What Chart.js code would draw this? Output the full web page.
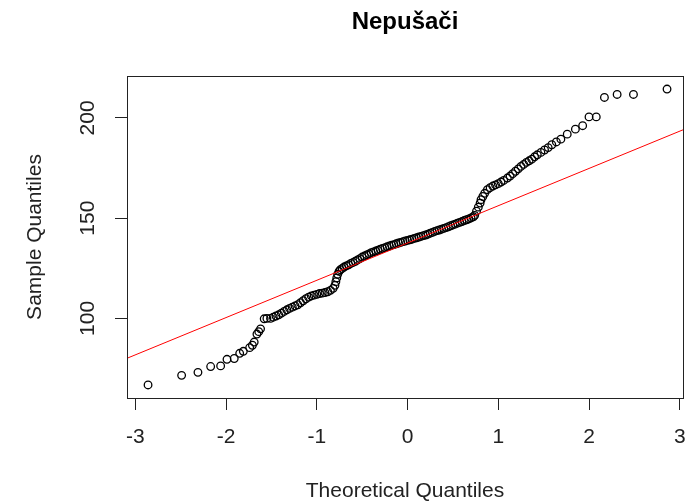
<!DOCTYPE html>
<html>
<head>
<meta charset="utf-8">
<script src="https://cdn.jsdelivr.net/npm/chart.js@4"></script>
<style>
  html, body { margin: 0; padding: 0; background: #fff; }
  #wrap { width: 687px; height: 502px; }
</style>
</head>
<body>
<div id="wrap"><canvas id="qq"></canvas></div>
<script>
// theoretical / sample quantiles
var theoretical = [
  -2.86, -2.49, -2.31, -2.17, -2.06, -1.99, -1.91, -1.85, -1.81, -1.74,
  -1.71, -1.69, -1.66, -1.64, -1.62, -1.58, -1.55, -1.51,
  -1.48, -1.45, -1.42, -1.39, -1.36, -1.33, -1.30, -1.27, -1.24, -1.21,
  -1.18, -1.15, -1.12, -1.09, -1.06, -1.03, -1.00, -0.97, -0.94, -0.91,
  -0.88, -0.85, -0.82, -0.80, -0.79, -0.78, -0.77, -0.755, -0.74, -0.72,
  -0.700, -0.675, -0.650, -0.625, -0.600, -0.575, -0.550, -0.525, -0.500, -0.475,
  -0.450, -0.425, -0.400, -0.375, -0.350, -0.325, -0.300, -0.275, -0.250, -0.225,
  -0.200, -0.175, -0.150, -0.125, -0.100, -0.075, -0.050, -0.025, 0.000, 0.025,
  0.050, 0.075, 0.100, 0.125, 0.150, 0.175, 0.200, 0.225, 0.250, 0.275,
  0.300, 0.325, 0.350, 0.375, 0.400, 0.425, 0.450, 0.475, 0.500, 0.525,
  0.550, 0.575, 0.600, 0.625, 0.650, 0.675, 0.700, 0.725, 0.740,
  0.76, 0.78, 0.80, 0.81, 0.83, 0.85, 0.88, 0.91, 0.94, 0.97,
  1.00, 1.03, 1.06, 1.10, 1.13, 1.16, 1.19, 1.22, 1.25, 1.28,
  1.31, 1.34, 1.37, 1.40, 1.43, 1.47, 1.51, 1.55, 1.59, 1.64,
  1.69, 1.76, 1.85, 1.93, 2.00, 2.08, 2.17, 2.31, 2.49, 2.86
];
var sample = [
  66.8, 71.6, 73.1, 76.0, 76.3, 79.6, 80.0, 82.6, 83.6, 85.4,
  86.6, 88.2, 92.2, 93.4, 94.8, 99.8, 100.0, 100.0,
  100.6, 101.2, 101.8, 102.6, 103.5, 104.3, 105.0, 105.6, 106.2, 106.8,
  107.8, 108.8, 109.8, 110.6, 111.2, 111.6, 112.0, 112.4, 112.6, 112.9,
  113.3, 114.0, 115.0, 116.5, 118.3, 120.2, 122.0, 123.5, 124.3, 124.9,
  125.6, 126.2, 126.7, 127.4, 127.9, 128.5, 129.2, 129.8, 130.6, 131.1,
  131.7, 132.2, 132.8, 133.2, 133.6, 134.0, 134.5, 134.9, 135.3, 135.7,
  136.1, 136.5, 136.8, 137.2, 137.6, 137.9, 138.3, 138.6, 138.9, 139.2,
  139.5, 139.9, 140.2, 140.6, 140.9, 141.3, 141.6, 142.0, 142.5, 142.9,
  143.4, 143.8, 144.1, 144.5, 144.9, 145.3, 145.7, 146.2, 146.6, 147.0,
  147.5, 147.9, 148.3, 148.8, 149.2, 149.6, 150.1, 150.7, 151.4,
  153.5, 155.5, 157.5, 159.2, 160.8, 162.4, 164.2, 165.2, 166.0, 166.6,
  167.2, 168.0, 168.8, 170.0, 171.0, 172.2, 173.4, 174.6, 175.8, 176.8,
  177.8, 178.6, 179.4, 180.6, 181.6, 182.8, 184.0, 185.2, 186.6, 188.0,
  189.4, 191.9, 194.4, 196.1, 200.5, 200.5, 210.2, 211.7, 211.7, 214.4
];

// qqline end points
var lineX = [-3.2, 3.2];
var lineY = [78.1, 197.1];

var xTicks = [-3, -2, -1, 0, 1, 2, 3];
var yTicks = [100, 150, 200];

var FONT = "'Liberation Sans', Arial, sans-serif";

var points = theoretical.map((x, i) => ({ x: x, y: sample[i] }));
var qqline = lineX.map((x, i) => ({ x: x, y: lineY[i] }));

// box round the plot + rotated y labels (R style)
const rBox = {
    id: 'rBox',
    afterDraw(chart) {
        const ctx = chart.ctx;
        const a = chart.chartArea;
        ctx.save();
        ctx.strokeStyle = '#222';
        ctx.lineWidth = 1;
        ctx.strokeRect(Math.round(a.left) + 0.5, Math.round(a.top) + 0.5,
            Math.round(a.right - a.left), Math.round(a.bottom - a.top));

        const ys = chart.scales.y;
        ctx.fillStyle = '#222';
        ctx.font = '21px ' + FONT;
        ctx.textAlign = 'center';
        ctx.textBaseline = 'middle';
        yTicks.forEach(v => {
            ctx.save();
            ctx.translate(88, ys.getPixelForValue(v));
            ctx.rotate(-Math.PI / 2);
            ctx.fillText(String(v), 0, 0);
            ctx.restore();
        });
        ctx.restore();
    }
};

new Chart(document.getElementById('qq'), {
    type: 'scatter',
    data: {
        datasets: [{
            label: 'sample',
            data: points,
            pointStyle: 'circle',
            pointRadius: 3.8,
            pointBorderWidth: 1.3,
            pointBorderColor: '#000',
            pointBackgroundColor: 'rgba(0,0,0,0)',
            order: 2
        }, {
            type: 'line',
            label: 'qqline',
            data: qqline,
            borderColor: '#ff0000',
            borderWidth: 1,
            pointRadius: 0,
            fill: false,
            order: 1
        }]
    },
    options: {
        responsive: true,
        maintainAspectRatio: false,
        animation: false,
        layout: { autoPadding: false, padding: { left: 0, right: 4, top: 0, bottom: 0 } },
        plugins: {
            legend: { display: false },
            tooltip: { enabled: false },
            title: {
                display: true,
                fullSize: false,
                text: 'Nepušači',
                color: '#000',
                font: { family: FONT, size: 24, weight: 'bold', lineHeight: 1.2 },
                padding: { top: 8, bottom: 39.2 }
            }
        },
        scales: {
            x: {
                type: 'linear',
                min: -3.092,
                max: 3.036,
                afterBuildTicks: s => { s.ticks = xTicks.map(v => ({ value: v })); },
                afterFit: s => { s.height = 104; s.paddingLeft = 0; s.paddingRight = 0; },
                border: { display: false },
                grid: { drawOnChartArea: false, tickLength: 12, color: '#222', lineWidth: 1 },
                ticks: {
                    color: '#222',
                    font: { family: FONT, size: 21 },
                    padding: 15,
                    maxRotation: 0,
                    autoSkip: false
                },
                title: {
                    display: true,
                    text: 'Theoretical Quantiles',
                    color: '#222',
                    font: { family: FONT, size: 21, lineHeight: 1 },
                    padding: { top: 0, bottom: 0 }
                }
            },
            y: {
                type: 'linear',
                min: 60.3,
                max: 220.9,
                afterBuildTicks: s => { s.ticks = yTicks.map(v => ({ value: v })); },
                afterFit: s => { s.width = 127; s.paddingTop = 0; s.paddingBottom = 0; },
                border: { display: false },
                grid: { drawOnChartArea: false, tickLength: 12, color: '#222', lineWidth: 1 },
                ticks: { display: false },
                title: {
                    display: true,
                    text: 'Sample Quantiles',
                    color: '#222',
                    font: { family: FONT, size: 21, lineHeight: 1 },
                    padding: { top: 24.5, bottom: 0 }
                }
            }
        }
    },
    plugins: [rBox]
});
</script>
</body>
</html>
